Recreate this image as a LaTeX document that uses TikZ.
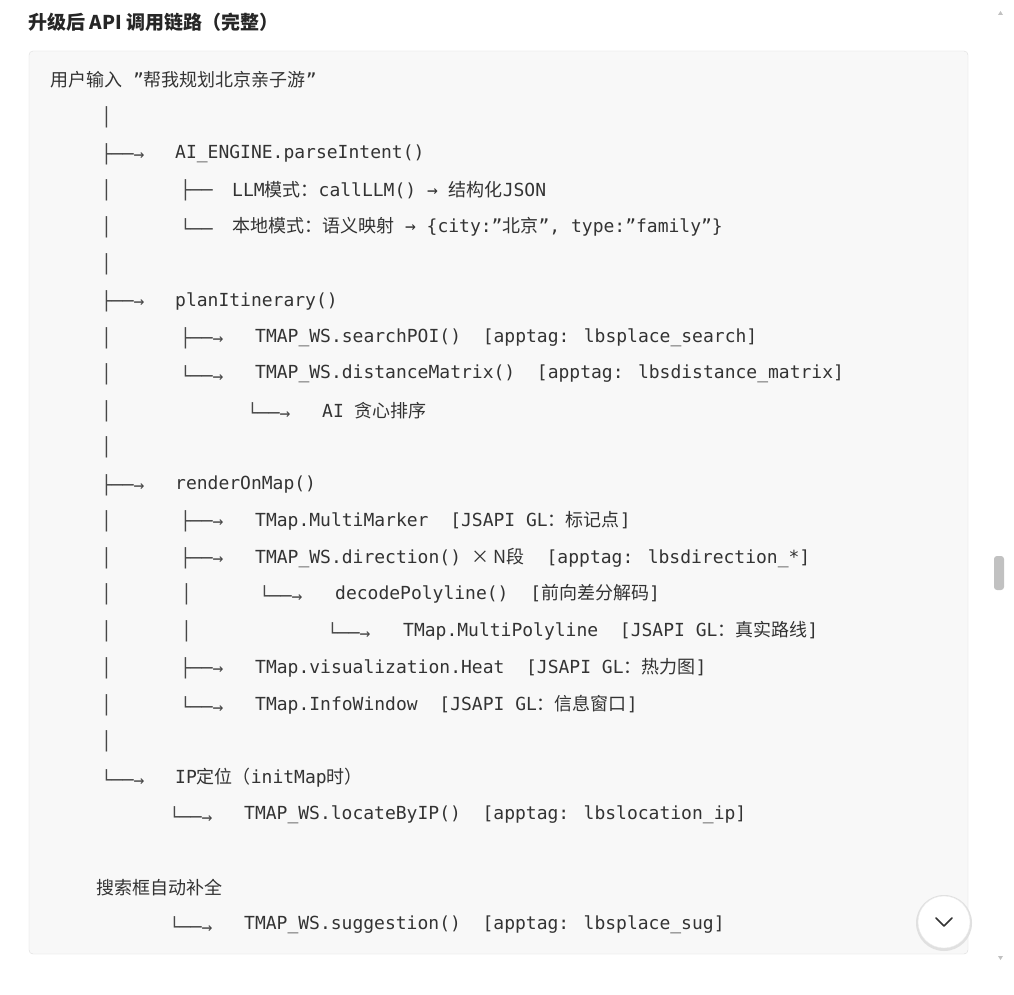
\documentclass[tikz,border=0pt]{standalone}
\usepackage{fontspec}
\usetikzlibrary{calc}
\setmainfont{DejaVu Sans Mono}
\newfontfamily\cjk{Noto Sans CJK SC}
\newcommand{\zh}[1]{{\cjk #1}}
\newcommand{\gap}{\ \ }
\definecolor{codetext}{HTML}{333333}
\definecolor{boxfill}{HTML}{F8F8F8}
\definecolor{boxline}{HTML}{DDDDDD}
\definecolor{scrollgray}{HTML}{C1C1C1}
\tikzset{
	code/.style={anchor=west, inner sep=0pt, text=codetext, font=\fontsize{18}{18}\selectfont},
	tree/.style={code, text=codetext!90},
}

\begin{document}
\begin{tikzpicture}[x=1pt, y=-1pt]

\useasboundingbox (0,0) rectangle (1014,995);
\fill[white] (0,0) rectangle (1014,995);

% title
\node[code, font=\fontsize{19}{19}\selectfont\cjk\bfseries, text=black!85] (title) at (28,22)
	{升级后 API 调用链路（完整）};

% code block
\draw[boxline, fill=boxfill, rounded corners=4pt] (29,51) rectangle (968,954);

\node[code] (root) at (50,80) {\zh{用户输入} "\zh{帮我规划北京亲子游}"};
\node[tree] (v1) at (101,117) {│};

\node[tree] (t1) at (101,154) {├──→};
\node[code] (parse) at (175,154) {AI\_ENGINE.parseIntent()};
\node[tree] (v2) at (101,190) {│};
\node[tree] (t11) at (180,190) {├──};
\node[code] (llm) at (232,190) {LLM\zh{模式：}callLLM() → \zh{结构化}JSON};
\node[tree] (v3) at (101,227) {│};
\node[tree] (t12) at (180,227) {└──};
\node[code] (local) at (232,227) {\zh{本地模式：语义映射} → \{city:"\zh{北京}", type:"family"\}};
\node[tree] (v4) at (101,264) {│};

\node[tree] (t2) at (101,301) {├──→};
\node[code] (plan) at (175,301) {planItinerary()};
\node[tree] (v5) at (101,338) {│};
\node[tree] (t21) at (180,338) {├──→};
\node[code] (search) at (255,338) {TMAP\_WS.searchPOI()\gap[apptag: lbsplace\_search]};
\node[tree] (v6) at (101,374) {│};
\node[tree] (t22) at (180,374) {└──→};
\node[code] (dist) at (255,374) {TMAP\_WS.distanceMatrix()\gap[apptag: lbsdistance\_matrix]};
\node[tree] (v7) at (101,411) {│};
\node[tree] (t221) at (247,411) {└──→};
\node[code] (greedy) at (322,411) {AI \zh{贪心排序}};
\node[tree] (v8) at (101,447) {│};

\node[tree] (t3) at (101,485) {├──→};
\node[code] (render) at (175,485) {renderOnMap()};
\node[tree] (v9) at (101,521) {│};
\node[tree] (t31) at (180,521) {├──→};
\node[code] (marker) at (255,521) {TMap.MultiMarker\gap[JSAPI GL\zh{：标记点}]};
\node[tree] (v10) at (101,558) {│};
\node[tree] (t32) at (180,558) {├──→};
\node[code] (dir) at (255,558) {TMAP\_WS.direction() \zh{× N段}\gap[apptag: lbsdirection\_*]};
\node[tree] (v11) at (101,594) {│};
\node[tree] (v11b) at (181,594) {│};
\node[tree] (t321) at (259,594) {└──→};
\node[code] (decode) at (335,594) {decodePolyline()\gap[\zh{前向差分解码}]};
\node[tree] (v12) at (101,631) {│};
\node[tree] (v12b) at (181,631) {│};
\node[tree] (t3211) at (327,631) {└──→};
\node[code] (poly) at (403,631) {TMap.MultiPolyline\gap[JSAPI GL\zh{：真实路线}]};
\node[tree] (v13) at (101,668) {│};
\node[tree] (t33) at (180,668) {├──→};
\node[code] (heat) at (255,668) {TMap.visualization.Heat\gap[JSAPI GL\zh{：热力图}]};
\node[tree] (v14) at (101,705) {│};
\node[tree] (t34) at (180,705) {└──→};
\node[code] (info) at (255,705) {TMap.InfoWindow\gap[JSAPI GL\zh{：信息窗口}]};
\node[tree] (v15) at (101,741) {│};

\node[tree] (t4) at (101,778) {└──→};
\node[code] (ip) at (175,778) {IP\zh{定位（}initMap\zh{时）}};
\node[tree] (t41) at (169,815) {└──→};
\node[code] (locate) at (244,815) {TMAP\_WS.locateByIP()\gap[apptag: lbslocation\_ip]};

\node[code] (sug) at (96,888) {\zh{搜索框自动补全}};
\node[tree] (t51) at (169,925) {└──→};
\node[code] (suggest) at (244,925) {TMAP\_WS.suggestion()\gap[apptag: lbsplace\_sug]};

% scroll bar
\fill[scrollgray] (998,15) -- (1003,15) -- (1000.5,11) -- cycle;
\fill[scrollgray] (998,956) -- (1003,956) -- (1000.5,960) -- cycle;
\fill[scrollgray, rounded corners=3pt] (994,556) rectangle (1004,590);

% scroll down button
\fill[black!12] (944,923) circle (28);
\node[circle, fill=white, draw=black!8, minimum size=52pt, inner sep=0pt] (down) at (944,922) {};
\draw[black!80, line width=1.6pt, line cap=round, line join=round]
	($(down)+(-8,-4)$) -- ($(down)+(0,4)$) -- ($(down)+(8,-4)$);

\end{tikzpicture}
\end{document}
